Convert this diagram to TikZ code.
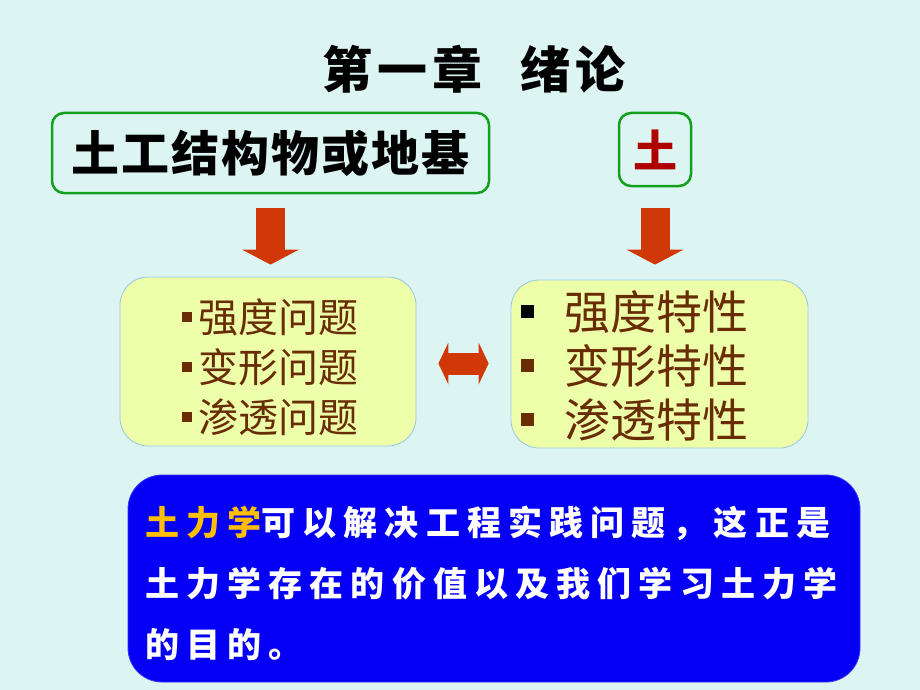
\documentclass[tikz,border=0pt]{standalone}
\usepackage{fontspec}
\setmainfont{Noto Sans CJK SC}
\usetikzlibrary{arrows.meta}

\definecolor{bgcyan}{RGB}{221,245,242}
\definecolor{boxgreen}{RGB}{20,160,30}
\definecolor{boxyellow}{RGB}{238,255,170}
\definecolor{edgeblue}{RGB}{150,200,230}
\definecolor{soilbrown}{RGB}{105,45,5}
\definecolor{arrowred}{RGB}{208,56,8}
\definecolor{deepblue}{RGB}{5,0,245}
\definecolor{gold}{RGB}{255,190,0}
\definecolor{soilred}{RGB}{175,0,0}

\newcommand\ttlfont{\bfseries\addfontfeature{LetterSpace=10}\fontsize{50}{60}\selectfont}
\newcommand\topfont{\bfseries\addfontfeature{LetterSpace=4}\fontsize{48}{56}\selectfont}
\newcommand\lfont{\fontsize{40}{50}\selectfont}
\newcommand\rfont{\fontsize{46}{54}\selectfont}
\newcommand\bfont{\bfseries\addfontfeature{LetterSpace=21}\fontsize{34}{61}\selectfont}
\newcommand\lbul{\rule[10pt]{10pt}{10pt}\hspace{6pt}}
\newcommand\rbul[1]{\textcolor{#1}{\rule[11pt]{13pt}{13pt}}\hspace{30pt}}

\tikzset{
  greenbox/.style={draw=boxgreen, line width=2.5pt, rounded corners=12pt},
  ybox/.style={draw=edgeblue, line width=0.8pt, fill=boxyellow, rounded corners=28pt},
  bluebox/.style={draw=deepblue!80!white, line width=0.8pt, fill=deepblue, rounded corners=34pt},
  bigarrow/.style={draw=arrowred, line width=29pt, -{Triangle[width=57pt,length=15pt,line width=0pt]}},
  duoarrow/.style={draw=arrowred, line width=22pt,
    {Triangle[width=42pt,length=10pt,line width=0pt]}-{Triangle[width=42pt,length=10pt,line width=0pt]}},
  txt/.style={inner sep=0pt, align=left}
}

\begin{document}
\begin{tikzpicture}[x=1pt,y=-1pt]

\fill[bgcyan] (0,0) rectangle (920,690);
\useasboundingbox (0,0) rectangle (920,690);

\node[font=\ttlfont] (title) at (474,69) {第一章\hspace{38pt}绪论};

% top row
\node[greenbox, minimum width=437pt, minimum height=80pt, font=\topfont] (ltop) at (270.5,153) {土工结构物或地基};
\node[greenbox, minimum width=72pt, minimum height=73pt, text=soilred, font=\bfseries\fontsize{44}{50}\selectfont] (rtop) at (655,149.5) {土};

% middle row
\node[ybox, minimum width=296pt, minimum height=169pt] (lbox) at (268,361.5) {};
\node[ybox, minimum width=297pt, minimum height=168pt] (rbox) at (659.5,364) {};
\node[txt, anchor=north west, text=soilbrown, font=\lfont] (ltxt) at (182,298)
  {\lbul 强度问题\\ \lbul 变形问题\\ \lbul 渗透问题};
\node[txt, anchor=north west, text=soilbrown, font=\rfont] (rtxt) at (521,290)
  {\rbul{black}强度特性\\ \rbul{soilbrown}变形特性\\ \rbul{soilbrown}渗透特性};

\draw[bigarrow, shorten <=14pt, shorten >=12pt] (ltop.south) -- (ltop.south |- lbox.north);
\draw[bigarrow, shorten <=21pt, shorten >=15pt] (rtop.south) -- (rtop.south |- rbox.north);
\draw[duoarrow, shorten <=22pt, shorten >=22pt] ([yshift=-2pt]lbox.east) -- ([yshift=-2pt]lbox.east -| rbox.west);

% bottom
\node[bluebox, minimum width=732pt, minimum height=207pt] (bbox) at (494,578.5) {};
\node[txt, anchor=north west, text=white, font=\bfont] (btxt) at (145,506)
  {\textcolor{gold}{土力学}可以解决工程实践问题，这正是\\土力学存在的价值以及我们学习土力学\\的目的。};

\end{tikzpicture}
\end{document}
